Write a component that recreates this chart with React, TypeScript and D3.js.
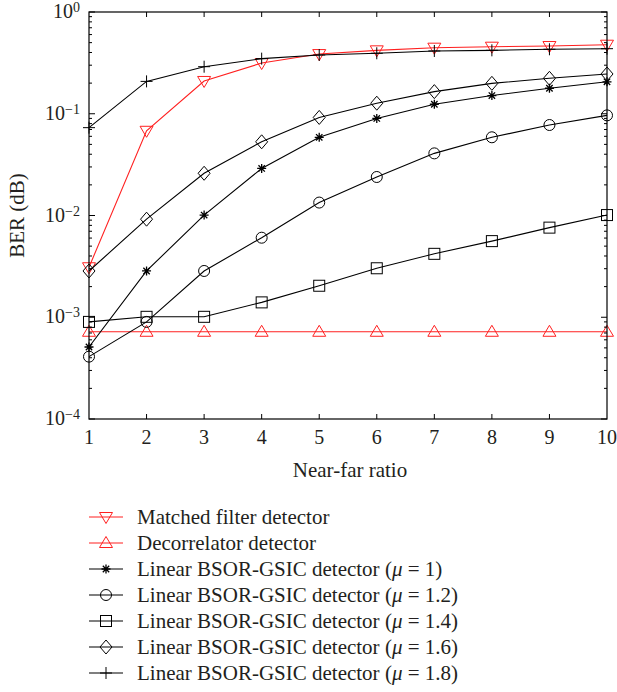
import React from "react";
import * as d3 from "d3";

const nearFar = [1, 2, 3, 4, 5, 6, 7, 8, 9, 10];
const matchedFilter = [0.0031, 0.068, 0.21, 0.315, 0.386, 0.42, 0.446, 0.456, 0.463, 0.477];
const decorrelator = [0.00072, 0.00072, 0.00072, 0.00072, 0.00072, 0.00072, 0.00072, 0.00072, 0.00072, 0.00072];
const mu10 = [0.00051, 0.00285, 0.0101, 0.029, 0.0587, 0.09, 0.124, 0.151, 0.178, 0.206];
const mu12 = [0.00041, 0.0009, 0.00285, 0.00605, 0.0134, 0.0239, 0.0408, 0.0587, 0.0775, 0.0964];
const mu14 = [0.0009, 0.00101, 0.00101, 0.0014, 0.00204, 0.00303, 0.0042, 0.0056, 0.0076, 0.0101];
const mu16 = [0.00285, 0.0092, 0.026, 0.053, 0.092, 0.127, 0.165, 0.199, 0.223, 0.246];
const mu18 = [0.073, 0.208, 0.29, 0.348, 0.378, 0.393, 0.414, 0.42, 0.43, 0.436];

const xTicks = [1, 2, 3, 4, 5, 6, 7, 8, 9, 10];
const yDecades = [0, -1, -2, -3, -4];

type Marker = "tri-down" | "tri-up" | "asterisk" | "circle" | "square" | "diamond" | "plus";

const seriesList: { label: string; mu?: string; values: number[]; color: string; marker: Marker }[] = [
  { label: "Matched filter detector", values: matchedFilter, color: "#ff2020", marker: "tri-down" },
  { label: "Decorrelator detector", values: decorrelator, color: "#ff2020", marker: "tri-up" },
  { label: "Linear BSOR-GSIC detector", mu: "1", values: mu10, color: "#000", marker: "asterisk" },
  { label: "Linear BSOR-GSIC detector", mu: "1.2", values: mu12, color: "#000", marker: "circle" },
  { label: "Linear BSOR-GSIC detector", mu: "1.4", values: mu14, color: "#000", marker: "square" },
  { label: "Linear BSOR-GSIC detector", mu: "1.6", values: mu16, color: "#000", marker: "diamond" },
  { label: "Linear BSOR-GSIC detector", mu: "1.8", values: mu18, color: "#000", marker: "plus" },
];

const FONT = "'Liberation Serif', 'DejaVu Serif', serif";

function MarkerShape({ type, x, y, color }: { type: Marker; x: number; y: number; color: string }) {
  const common = { fill: "none", stroke: color, strokeWidth: 1 };
  switch (type) {
    case "tri-down":
      return <path d={`M${x - 6.5},${y - 4.5}L${x + 6.5},${y - 4.5}L${x},${y + 6.5}Z`} {...common} />;
    case "tri-up":
      return <path d={`M${x - 6.5},${y + 4.5}L${x + 6.5},${y + 4.5}L${x},${y - 6.5}Z`} {...common} />;
    case "circle":
      return <circle cx={x} cy={y} r={5.5} {...common} />;
    case "square":
      return <rect x={x - 5.5} y={y - 5.5} width={11} height={11} {...common} />;
    case "diamond":
      return <path d={`M${x},${y - 7}L${x + 6},${y}L${x},${y + 7}L${x - 6},${y}Z`} {...common} />;
    case "plus":
      return <path d={`M${x - 6},${y}L${x + 6},${y}M${x},${y - 6}L${x},${y + 6}`} {...common} />;
    case "asterisk": {
      const r = 4.5, q = 3.2;
      return (
        <path
          d={`M${x - r},${y}L${x + r},${y}M${x},${y - r}L${x},${y + r}M${x - q},${y - q}L${x + q},${y + q}M${x - q},${y + q}L${x + q},${y - q}`}
          {...common}
          strokeWidth={1.3}
        />
      );
    }
  }
  return null;
}

export default function App() {
  const left = 89, right = 607, top = 12, bottom = 419;
  const x = d3.scaleLinear().domain([1, 10]).range([left, right]);
  const y = d3.scaleLog().domain([1e-4, 1]).range([bottom, top]);
  const line = d3
    .line<number>()
    .x((_, i) => x(nearFar[i]))
    .y((v) => y(v));

  const minorTicks: number[] = [];
  for (let e = -4; e < 0; e++) {
    for (let m = 2; m <= 9; m++) minorTicks.push(m * Math.pow(10, e));
  }

  const legendX0 = 89, legendX1 = 123, legendText = 137;
  const legendY = d3.scaleLinear().domain([0, 6]).range([517, 673]);
  const textColor = "#231f20";

  return (
    <svg
      width={617}
      height={692}
      style={{ position: "absolute", left: 0, top: 0, background: "#fff" }}
      fontFamily={FONT}
    >
      <rect x={0} y={0} width={617} height={692} fill="#fff" />
      {/* series */}
      {seriesList.map((s, si) => (
        <g key={si}>
          <path d={line(s.values) || ""} fill="none" stroke={s.color} strokeWidth={1.1} />
          {s.values.map((v, i) => (
            <MarkerShape key={i} type={s.marker} x={x(nearFar[i])} y={y(v)} color={s.color} />
          ))}
        </g>
      ))}
      {/* frame */}
      <rect x={left} y={top} width={right - left} height={bottom - top} fill="none" stroke="#000" strokeWidth={1.2} />
      {/* x ticks */}
      {xTicks.slice(1, -1).map((t) => (
        <g key={t}>
          <line x1={x(t)} x2={x(t)} y1={bottom} y2={bottom - 5} stroke="#000" />
          <line x1={x(t)} x2={x(t)} y1={top} y2={top + 5} stroke="#000" />
        </g>
      ))}
      {xTicks.map((t) => (
        <text key={t} x={x(t)} y={444} fontSize={20} textAnchor="middle" fill={textColor}>
          {t}
        </text>
      ))}
      {/* y ticks */}
      {yDecades.map((e) => (
        <g key={e}>
          <line x1={left} x2={left + 6} y1={y(Math.pow(10, e))} y2={y(Math.pow(10, e))} stroke="#000" />
          <line x1={right} x2={right - 6} y1={y(Math.pow(10, e))} y2={y(Math.pow(10, e))} stroke="#000" />
          <text x={80} y={y(Math.pow(10, e)) + 6} fontSize={20} textAnchor="end" fill={textColor}>
            10
            <tspan dy={-6} fontSize={14}>
              {e === 0 ? "0" : "\u2212" + Math.abs(e)}
            </tspan>
          </text>
        </g>
      ))}
      {minorTicks.map((t, i) => (
        <g key={i}>
          <line x1={left} x2={left + 3} y1={y(t)} y2={y(t)} stroke="#000" />
          <line x1={right} x2={right - 3} y1={y(t)} y2={y(t)} stroke="#000" />
        </g>
      ))}
      {/* axis labels */}
      <text x={350} y={477} fontSize={21} textAnchor="middle" fill={textColor}>
        Near-far ratio
      </text>
      <text
        transform={`translate(24,${(top + bottom) / 2}) rotate(-90)`}
        fontSize={21}
        textAnchor="middle"
        fill={textColor}
      >
        BER (dB)
      </text>
      {/* legend */}
      {seriesList.map((s, i) => {
        const ly = legendY(i);
        return (
          <g key={i}>
            <line x1={legendX0} x2={legendX1} y1={ly} y2={ly} stroke={s.color} strokeWidth={1.1} />
            <MarkerShape type={s.marker} x={(legendX0 + legendX1) / 2} y={ly} color={s.color} />
            <text x={legendText} y={ly + 7} fontSize={21} fill={textColor}>
              {s.label}
              {s.mu !== undefined ? (
                <>
                  {" ("}
                  <tspan fontStyle="italic">μ</tspan>
                  {" = " + s.mu + ")"}
                </>
              ) : null}
            </text>
          </g>
        );
      })}
    </svg>
  );
}
